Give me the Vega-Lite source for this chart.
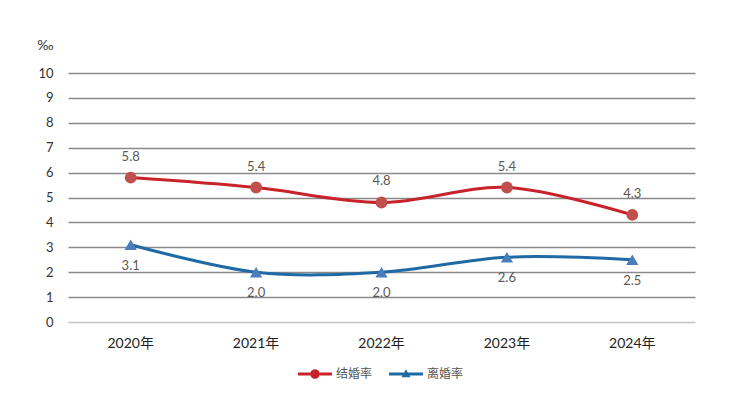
{
  "$schema": "https://vega.github.io/schema/vega-lite/v6.json",
  "width": 627,
  "height": 249,
  "autosize": "none",
  "padding": {"left": 68, "top": 73, "right": 44, "bottom": 74},
  "background": "white",
  "config": {
    "view": {"stroke": null},
    "font": "Lato, 'Noto Sans CJK SC', sans-serif"
  },
  "data": {
    "values": [
      {"year": "2020年", "series": "结婚率", "value": 5.8},
      {"year": "2021年", "series": "结婚率", "value": 5.4},
      {"year": "2022年", "series": "结婚率", "value": 4.8},
      {"year": "2023年", "series": "结婚率", "value": 5.4},
      {"year": "2024年", "series": "结婚率", "value": 4.3},
      {"year": "2020年", "series": "离婚率", "value": 3.1},
      {"year": "2021年", "series": "离婚率", "value": 2.0},
      {"year": "2022年", "series": "离婚率", "value": 2.0},
      {"year": "2023年", "series": "离婚率", "value": 2.6},
      {"year": "2024年", "series": "离婚率", "value": 2.5}
    ]
  },
  "encoding": {
    "x": {
      "field": "year",
      "type": "ordinal",
      "scale": {"type": "band", "paddingInner": 0, "paddingOuter": 0},
      "axis": {
        "title": null,
        "labelAngle": 0,
        "domain": false,
        "ticks": false,
        "grid": false,
        "labelPadding": 14,
        "labelFontSize": 14,
        "labelColor": "#222222",
        "labelFont": "Lato, 'Noto Sans CJK SC', sans-serif"
      }
    },
    "y": {
      "field": "value",
      "type": "quantitative",
      "scale": {"domain": [0, 10], "nice": false, "zero": true},
      "axis": {
        "values": [0, 1, 2, 3, 4, 5, 6, 7, 8, 9, 10],
        "title": "‰",
        "titleAngle": 0,
        "titleAlign": "right",
        "titleBaseline": "middle",
        "titleX": -15,
        "titleY": -28,
        "titleFontSize": 14,
        "titleFontWeight": "normal",
        "titleColor": "#333333",
        "domain": false,
        "ticks": false,
        "labelPadding": 15,
        "labelFontSize": 13,
        "labelColor": "#333333",
        "grid": true,
        "gridColor": {"condition": {"test": "datum.value === 0", "value": "#c4c4c4"}, "value": "#8a8a8a"},
        "gridWidth": 1.6
      }
    }
  },
  "layer": [
    {
      "mark": {"type": "line", "interpolate": "cardinal", "tension": 0, "strokeWidth": 3},
      "encoding": {
        "color": {
          "field": "series",
          "type": "nominal",
          "scale": {"domain": ["结婚率", "离婚率"], "range": ["#c8232b", "#1f6aa5"]},
          "legend": {
            "title": null,
            "orient": "none",
            "legendX": 236,
            "legendY": 290,
            "direction": "horizontal",
            "symbolType": "M-1.6,-0.14H-0.45V0.14H-1.6Z M0.45,-0.14H1.6V0.14H0.45Z M0.45,0A0.45,0.45 0 1 1 -0.45,0A0.45,0.45 0 1 1 0.45,0Z",
            "symbolSize": 450,
            "labelOffset": 10,
            "columnPadding": 16,
            "labelFontSize": 12,
            "labelColor": "#555555",
            "labelFont": "Lato, 'Noto Sans CJK SC', sans-serif",
            "encode": {
              "symbols": {
                "update": {
                  "shape": {"signal": "datum.value === '结婚率' ? 'M-1.6,-0.14H-0.45V0.14H-1.6Z M0.45,-0.14H1.6V0.14H0.45Z M0.45,0A0.45,0.45 0 1 1 -0.45,0A0.45,0.45 0 1 1 0.45,0Z' : 'M-1.6,-0.14H-0.2V0.14H-1.6Z M0.2,-0.14H1.6V0.14H0.2Z M0,-0.45L0.42,0.3L-0.42,0.3Z'"},
                  "fill": {"signal": "datum.value === '结婚率' ? '#c8232b' : '#1f6aa5'"},
                  "fillOpacity": {"value": 1},
                  "strokeWidth": {"value": 0},
                  "opacity": {"value": 1}
                }
              }
            }
          }
        }
      }
    },
    {
      "transform": [{"filter": "datum.series === '结婚率'"}],
      "mark": {"type": "point", "filled": true, "opacity": 1, "shape": "circle", "color": "#c0504d", "size": 140}
    },
    {
      "transform": [{"filter": "datum.series === '离婚率'"}],
      "mark": {"type": "point", "filled": true, "opacity": 1, "shape": "triangle-up", "color": "#4a7ebb", "size": 150}
    },
    {
      "transform": [{"filter": "datum.series === '结婚率'"}],
      "mark": {"type": "text", "dy": -21, "baseline": "middle", "fontSize": 13, "color": "#595959"},
      "encoding": {"text": {"field": "value", "type": "quantitative", "format": ".1f"}}
    },
    {
      "transform": [{"filter": "datum.series === '离婚率'"}],
      "mark": {"type": "text", "dy": 21, "baseline": "middle", "fontSize": 13, "color": "#595959"},
      "encoding": {"text": {"field": "value", "type": "quantitative", "format": ".1f"}}
    }
  ]
}
